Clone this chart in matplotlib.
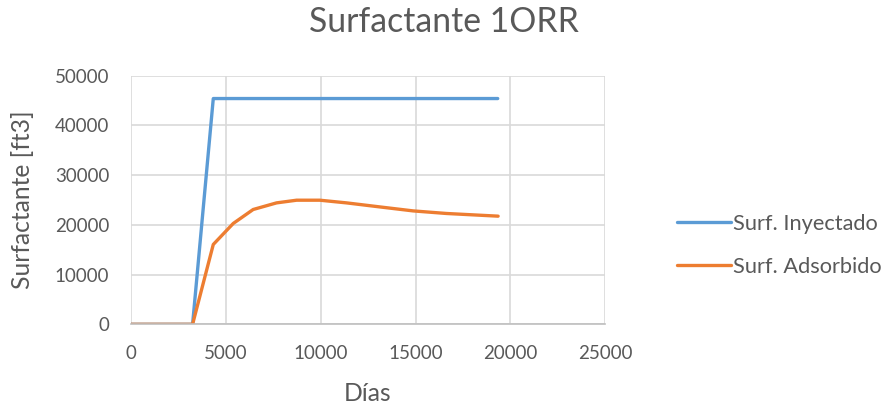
import matplotlib.pyplot as plt

# Injected surfactant (cumulative) vs days
dias_iny = [0, 3260, 4350, 19330]
surf_iny = [0, 0, 45400, 45400]

# Adsorbed surfactant vs days
dias_ads = [0, 3260, 4350, 5400, 6450, 7680, 8740, 9960, 11370, 13120,
            14870, 16630, 19350]
surf_ads = [0, 0, 16060, 20280, 23090, 24420, 24960, 24960, 24420, 23610,
            22810, 22290, 21750]

plt.rcParams['font.family'] = ['Lato', 'DejaVu Sans']
gray = '#595959'

fig = plt.figure(figsize=(8.89, 4.09), dpi=100)
ax = fig.add_axes([0.147, 0.207, 0.534, 0.608])

ax.plot(dias_iny, surf_iny, color='#5B9BD5', lw=2.4, label='Surf. Inyectado',
        solid_joinstyle='round', solid_capstyle='round')
ax.plot(dias_ads, surf_ads, color='#ED7D31', lw=2.4, label='Surf. Adsorbido',
        solid_joinstyle='round', solid_capstyle='round')

ax.set_xlim(0, 25000)
ax.set_ylim(0, 50000)
ax.set_xticks(range(0, 25001, 5000))
ax.set_yticks(range(0, 50001, 10000))
ax.grid(True, color='#d9d9d9', lw=1.2)
ax.set_axisbelow(True)
for s in ['top', 'right', 'left']:
    ax.spines[s].set_visible(False)
ax.spines['bottom'].set_color('#bfbfbf')
ax.spines['bottom'].set_linewidth(1.2)
ax.tick_params(length=0, labelsize=13.5, labelcolor=gray)
ax.tick_params(axis='y', pad=15.5)
ax.tick_params(axis='x', pad=15)

ax.set_xlabel('Días', fontsize=17.7, color=gray)
ax.xaxis.set_label_coords(0.5, -0.232)
ax.set_ylabel('Surfactante [ft3]', fontsize=17.7, color=gray)
ax.yaxis.set_label_coords(-0.204, 0.5)
fig.text(0.499, 0.945, 'Surfactante 1ORR', fontsize=24.3, color=gray,
         ha='center', va='center')

fig.legend(loc='center left', bbox_to_anchor=(0.749, 0.40), frameon=False,
           fontsize=15.7, labelcolor=gray, handlelength=2.5,
           handletextpad=0.1, labelspacing=1.05, borderpad=0)

fig.savefig('out.png', dpi=100)
